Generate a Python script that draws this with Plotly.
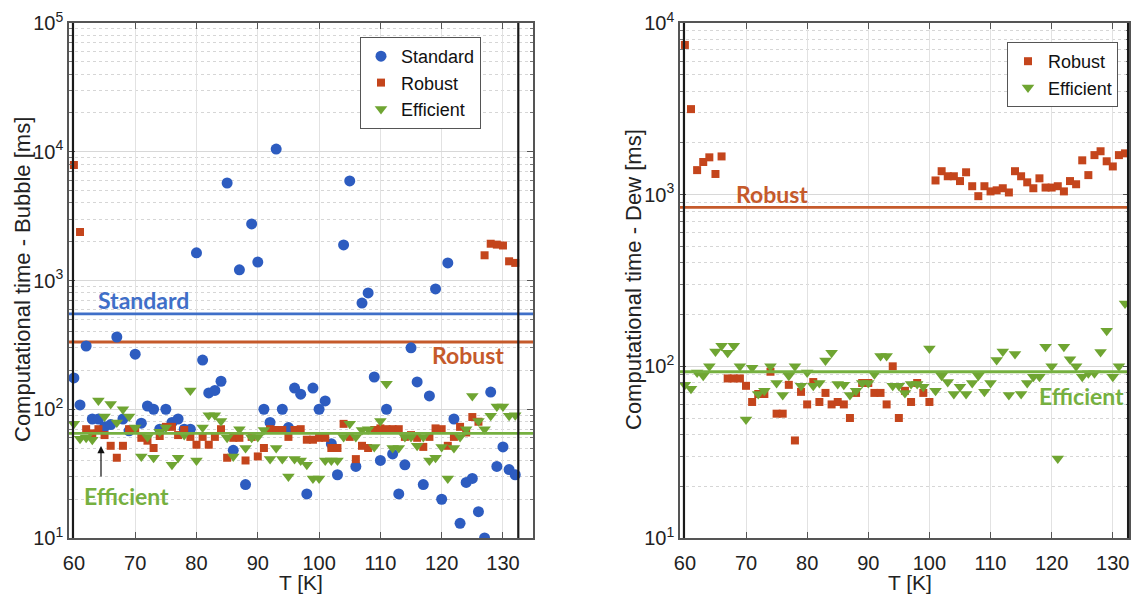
import plotly.graph_objects as go

# ---------------- data ----------------
T = list(range(60, 133))

bubble_standard = [175, 108, 310, 84, 84, 73, 76, 364, 84, 68,
                   268, 78, 106, 100, 70, 100, 79, 84, 70, 70,
                   1640, 241, 134, 140, 165, 5720, 48, 1210, 26, 2750,
                   1390, 100, 79, 10500, 100, 72, 146, 131, 22, 146,
                   100, 116, 54, 31, 1890, 5930, 36, 668, 800, 178,
                   40, 100, 45, 22, 37, 300, 163, 26, 127, 860,
                   20, 1370, 84, 13, 27, 29, 16, 10, 136, 36,
                   51, 34, 31]
bubble_robust = [7890, 2380, 70, 65, 70, 63, 52, 42, 52, 70,
                 69, 60, 57, 50, 62, 73, 73, 63, 69, 61,
                 53, 61, 53, 61, 70, 42, 60, 60, 40, 61,
                 43, 50, 70, 69, 69, 61, 69, 70, 58, 58,
                 60, 60, 50, 50, 77, 61, 41, 52, 50, 69,
                 71, 70, 70, 70, 61, 63, 60, 51, 61, 71,
                 70, 52, 61, 73, 66, 87, 80, 1570, 1930, 1900,
                 1870, 1410, 1370]
bubble_efficient = [77, 59, 60, 58, 117, 88, 110, 79, 100, 88,
                    72, 43, 61, 42, 67, 72, 37, 42, 63, 140,
                    40, 72, 90, 90, 81, 60, 43, 70, 50, 60,
                    61, 69, 41, 50, 41, 30, 41, 40, 37, 29,
                    29, 40, 40, 40, 61, 77, 61, 69, 70, 51,
                    81, 158, 50, 50, 61, 61, 52, 61, 40, 42,
                    51, 29, 50, 61, 70, 127, 81, 70, 89, 105,
                    105, 89, 90]

dew_robust = [7450, 3150, 1390, 1550, 1650, 1320, 1670, 85, 85, 85,
              77, 62, 69, 69, 93, 53, 53, 78, 37, 71,
              60, 81, 62, 70, 60, 62, 60, 50, 70, 80,
              80, 70, 70, 60, 100, 50, 72, 62, 80, 70,
              62, 1210, 1370, 1280, 1280, 1200, 1350, 1120, 980, 1120,
              1045, 1060, 1090, 1030, 1370, 1280, 1180, 1090, 1245, 1100,
              1100, 1120, 1045, 1200, 1150, 1585, 1300, 1700, 1790, 1565,
              1460, 1700, 1740]
dew_efficient = [78, 74, 92, 88, 100, 122, 132, 120, 132, 100,
                 49, 98, 69, 72, 100, 80, 68, 88, 100, 77,
                 92, 77, 80, 108, 120, 79, 78, 68, 72, 80,
                 80, 90, 115, 115, 77, 77, 70, 79, 79, 76,
                 127, 72, 88, 81, 69, 76, 69, 80, 88, 71,
                 80, 109, 122, 68, 118, 69, 80, 87, 87, 130,
                 100, 29, 130, 110, 100, 87, 91, 91, 121, 161,
                 87, 100, 232]

# mean computational times (horizontal reference lines)
bubble_mean_standard = 550
bubble_mean_robust = 333
bubble_mean_efficient = 65
dew_mean_robust = 843
dew_mean_efficient = 93

# temperature bounds (vertical black lines)
T_bounds = [59.85, 132.5]

x_ticks = [60, 70, 80, 90, 100, 110, 120, 130]
y_major_left = [10, 100, 1000, 10000, 100000]
y_major_right = [10, 100, 1000, 10000]
y_ticktext_left = ["10<sup>1</sup>", "10<sup>2</sup>", "10<sup>3</sup>", "10<sup>4</sup>", "10<sup>5</sup>"]
y_ticktext_right = ["10<sup>1</sup>", "10<sup>2</sup>", "10<sup>3</sup>", "10<sup>4</sup>"]

# ---------------- styling ----------------
W, H = 1132, 596
C_STD_M, C_ROB_M, C_EFF_M = "#2D5CC0", "#C4451C", "#6FA532"
C_STD_L, C_ROB_L, C_EFF_L = "#3F6FC8", "#C55A2B", "#76B040"
FONT = "Liberation Sans"
ANN_FONT = "Lato"

def pxx(v):
    return v / W

def pxy(v):
    return 1 - v / H

x_range_left = [59.2, 134.9]
x_range_right = [59.2, 132.65]

fig = go.Figure()

def add_points(x, y, name, color, symbol, size, xa, ya, legend):
    fig.add_trace(go.Scatter(
        x=x, y=y, mode="markers", name=name,
        marker=dict(color=color, symbol=symbol, size=size, line=dict(width=0)),
        xaxis=xa, yaxis=ya, legend=legend))

def add_mean(value, xr, color, xa, ya):
    fig.add_trace(go.Scatter(
        x=xr, y=[value, value], mode="lines", showlegend=False,
        line=dict(color=color, width=2.8), xaxis=xa, yaxis=ya, hoverinfo="skip"))

# left (Bubble)
add_mean(bubble_mean_standard, x_range_left, C_STD_L, "x", "y")
add_mean(bubble_mean_robust, x_range_left, C_ROB_L, "x", "y")
add_points(T, bubble_standard, "Standard", C_STD_M, "circle", 11, "x", "y", "legend")
add_points(T, bubble_robust, "Robust", C_ROB_M, "square", 8, "x", "y", "legend")
add_points(T, bubble_efficient, "Efficient", C_EFF_M, "triangle-down", 11, "x", "y", "legend")
add_mean(bubble_mean_efficient, x_range_left, C_EFF_L, "x", "y")

# right (Dew)
add_mean(dew_mean_robust, x_range_right, C_ROB_L, "x2", "y2")
add_points(T, dew_robust, "Robust", C_ROB_M, "square", 8, "x2", "y2", "legend2")
add_points(T, dew_efficient, "Efficient", C_EFF_M, "triangle-down", 11, "x2", "y2", "legend2")
add_mean(dew_mean_efficient, x_range_right, C_EFF_L, "x2", "y2")

def minor_vals(lo_exp, hi_exp):
    vals = []
    for e in range(lo_exp, hi_exp):
        for m in range(2, 10):
            vals.append(m * 10 ** e)
    return vals

common_x = dict(
    tickvals=x_ticks, showgrid=True, gridcolor="#e2e2e2", gridwidth=1,
    ticks="inside", ticklen=6, tickcolor="#555", mirror="ticks",
    showline=True, linecolor="#555", linewidth=1.5, zeroline=False,
    automargin=False,
    tickfont=dict(family=FONT, size=20, color="#222"), ticklabelstandoff=6)

common_y = dict(
    type="log", showgrid=True, gridcolor="#d8d8d8", gridwidth=1,
    ticks="inside", ticklen=6, tickcolor="#555", mirror="ticks",
    showline=True, linecolor="#555", linewidth=1.5, zeroline=False,
    automargin=False,
    tickfont=dict(family=FONT, size=20, color="#222"))

fig.update_layout(
    width=W, height=H, margin=dict(l=0, r=0, t=0, b=0),
    paper_bgcolor="white", plot_bgcolor="white",
    xaxis=dict(domain=[69 / W, 533 / W], range=x_range_left, anchor="y", **common_x),
    yaxis=dict(domain=[1 - 538 / H, 1 - 23 / H], range=[1, 5], anchor="x",
               tickvals=y_major_left, ticktext=y_ticktext_left,
               minor=dict(tickmode="array", tickvals=minor_vals(1, 5), showgrid=True,
                          gridcolor="#d6d6d6", griddash="dot", ticks="inside", ticklen=3,
                          tickcolor="#777"),
               **common_y),
    xaxis2=dict(domain=[680 / W, 1129 / W], range=x_range_right, anchor="y2", **common_x),
    yaxis2=dict(domain=[1 - 538 / H, 1 - 23 / H], range=[1, 4], anchor="x2",
                tickvals=y_major_right, ticktext=y_ticktext_right,
                minor=dict(tickmode="array", tickvals=minor_vals(1, 4), showgrid=True,
                           gridcolor="#d6d6d6", griddash="dot", ticks="inside", ticklen=3,
                           tickcolor="#777"),
                **common_y),
    legend=dict(x=360 / W, y=pxy(37), xanchor="left", yanchor="top",
                bgcolor="white", bordercolor="#555", borderwidth=1,
                font=dict(family=FONT, size=18, color="#111"), itemwidth=30,
                tracegroupgap=0),
    legend2=dict(x=1007 / W, y=pxy(42), xanchor="left", yanchor="top",
                 bgcolor="white", bordercolor="#555", borderwidth=1,
                 font=dict(family=FONT, size=18, color="#111"), itemwidth=30,
                 tracegroupgap=0),
    showlegend=True,
)

# vertical black bound lines
for xa, ya in (("x", "y"), ("x2", "y2")):
    for tb in T_bounds:
        fig.add_shape(type="line", xref=xa, yref=ya + " domain", x0=tb, x1=tb, y0=0, y1=1,
                      line=dict(color="#1a1a1a", width=2.2), layer="above")

# labels on the mean lines
def ann(text, x, y, color, size=23):
    fig.add_annotation(text="<b>%s</b>" % text, x=pxx(x), y=pxy(y), xref="paper", yref="paper",
                       showarrow=False, font=dict(family=ANN_FONT, size=size, color=color),
                       xanchor="center", yanchor="middle")

ann("Standard", 143, 300, C_STD_L)
ann("Robust", 468, 355, C_ROB_L)
ann("Efficient", 126, 496, C_EFF_L)
ann("Robust", 772, 194, C_ROB_L)
ann("Efficient", 1081, 396, C_EFF_L)

# arrow from "Efficient" to the line
fig.add_annotation(text="", x=pxx(101), y=pxy(446), xref="paper", yref="paper",
                   ax=0, ay=32, showarrow=True, arrowhead=2, arrowsize=1.2,
                   arrowwidth=1.2, arrowcolor="#111")

# axis titles
for xc in (301, 910):
    fig.add_annotation(text="T [K]", x=pxx(xc), y=pxy(582), xref="paper", yref="paper",
                       showarrow=False, font=dict(family=FONT, size=21, color="#222"),
                       xanchor="center", yanchor="middle")
fig.add_annotation(text="Computational time - Bubble [ms]", x=pxx(22), y=pxy(280),
                   xref="paper", yref="paper", showarrow=False, textangle=-90,
                   font=dict(family=FONT, size=22, color="#222"),
                   xanchor="center", yanchor="middle")
fig.add_annotation(text="Computational time - Dew [ms]", x=pxx(633), y=pxy(280),
                   xref="paper", yref="paper", showarrow=False, textangle=-90,
                   font=dict(family=FONT, size=22, color="#222"),
                   xanchor="center", yanchor="middle")

fig.write_html("out.html")
